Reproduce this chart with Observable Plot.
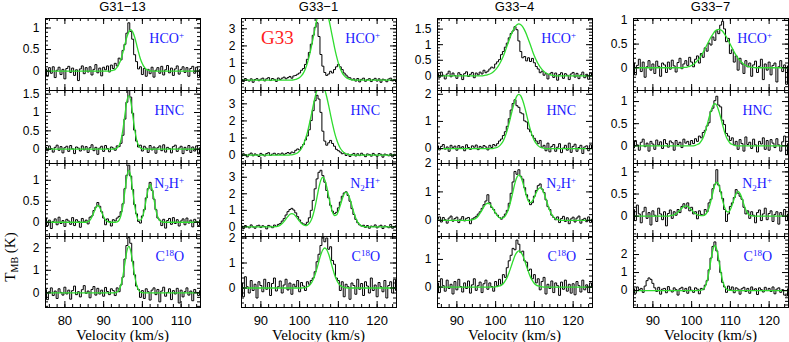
<!DOCTYPE html>
<html><head><meta charset="utf-8">
<script src="https://cdn.jsdelivr.net/npm/d3@7"></script>
<script src="https://cdn.jsdelivr.net/npm/@observablehq/plot@0.6"></script>
<style>
body{margin:0;background:#fff;}
#fig{position:relative;width:789px;height:342px;overflow:hidden;background:#fff;}
#fig svg{position:absolute;overflow:visible;}
</style></head><body><div id="fig"></div>
<script>
// ---------- categories / axes ----------
const sources = ["G31\u221213","G33\u22121","G33\u22124","G33\u22127"];
const molecules = ["HCO+","HNC","N2H+","C18O"];
const vStart = [75,85,85,85];           // first channel velocity (km/s)
const vStep = 0.5;                       // channel width (km/s)
const xDomains = [[75,115],[85,125],[85,125],[85,125]];
const xTickLabels = [[80,90,100,110],[90,100,110,120],[90,100,110,120],[90,100,110,120]];
const yDomains = [
  [[-0.45,1.22],[-0.39,1.6],[-0.34,1.4],[-0.65,2.5]],
  [[-0.6,3.6],[-0.49,3.78],[-0.58,3.83],[-0.78,2.06]],
  [[-0.47,1.84],[-0.55,2.14],[-0.57,2.0],[-0.74,1.83]],
  [[-0.48,1.04],[-0.4,1.25],[-0.46,1.19],[-0.94,3.0]]
];
const yTickLabels = [
  [[0,0.5,1],[0,0.5,1,1.5],[0,0.5,1],[0,1,2]],
  [[0,1,2,3],[0,1,2,3],[0,1,2,3],[0,1,2]],
  [[0,0.5,1,1.5],[0,1,2],[0,1,2],[0,1]],
  [[0,0.5,1],[0,0.5,1],[0,0.5,1],[0,1,2]]
];

// ---------- spectra (T_MB, K) ----------
const s1_hco = [0.05,-0.12,0.08,-0.05,0.10,-0.15,0.02,0.09,-0.08,0.04, -0.18,0.06,0.11,-0.03,0.07,-0.10,0.03,-0.22,0.05,0.12, -0.06,0.08,-0.02,0.10,-0.09,0.04,0.15,-0.04,0.07,-0.11, 0.09,0.03,0.12,-0.02,0.14,0.06,0.18,0.12,0.30,0.26, 0.48,0.62,0.88,1.12,0.92,0.74,0.38,0.22,0.05,0.10, -0.08,0.06,-0.12,0.04,-0.06,0.09,-0.14,0.02,0.08,-0.05, 0.11,-0.09,0.03,0.13,-0.04,0.07,-0.10,0.05,0.12,-0.07, 0.04,0.10,-0.03,0.08,-0.12,0.06,0.11,-0.05,0.09,-0.15,0.04];
const s1_hnc = [0.06,-0.04,0.09,0.02,-0.08,0.05,0.11,-0.03,0.07,-0.10, 0.04,0.08,-0.06,0.10,0.01,-0.12,0.06,0.03,-0.05,0.09, -0.02,0.07,-0.09,0.04,0.12,-0.04,0.05,-0.14,0.03,0.08, -0.06,0.10,0.02,-0.07,0.06,0.03,-0.03,0.09,0.07,0.16, 0.38,0.82,1.28,1.60,1.42,0.98,0.52,0.22,0.06,0.11, -0.05,0.08,0.03,-0.09,0.10,-0.02,0.06,-0.11,0.04,0.09, -0.04,0.12,-0.08,0.05,0.02,-0.10,0.07,0.11,-0.06,0.03, 0.08,-0.12,0.05,-0.03,0.10,-0.09,0.06,-0.05,0.09,-0.13,0.04];
const s1_n2h = [0.10,-0.08,0.05,-0.15,0.02,0.08,-0.06,0.12,-0.03,0.04, -0.10,0.07,0.03,-0.05,0.11,-0.08,0.06,0.02,-0.12,0.09, 0.01,0.05,-0.04,0.12,0.15,0.28,0.36,0.47,0.38,0.25, 0.10,-0.06,0.08,0.02,-0.09,0.06,0.03,0.10,0.14,0.25, 0.44,0.80,1.12,1.36,1.10,0.78,0.42,0.20,0.02,-0.02, 0.15,0.30,0.58,0.80,0.95,0.76,0.55,0.30,0.10,0.05, -0.08,0.07,-0.14,0.04,0.09,-0.05,0.11,-0.03,0.06,-0.09, 0.03,0.08,-0.06,0.10,-0.02,0.05,-0.11,0.07,0.02,-0.08,0.06];
const s1_c18o = [0.15,-0.30,0.05,0.22,-0.12,0.08,-0.25,0.18,0.02,-0.10, 0.25,-0.05,0.12,-0.28,0.10,0.30,-0.08,0.05,-0.18,0.14, 0.32,-0.02,0.08,-0.22,0.15,0.28,-0.10,0.20,-0.05,0.12, -0.15,0.24,0.06,-0.08,0.18,0.10,-0.12,0.22,0.05,0.35, 0.70,1.50,2.10,2.45,2.20,1.40,0.80,0.30,0.15,-0.20, 0.10,-0.25,0.18,0.05,-0.32,0.12,0.22,-0.08,0.15,-0.40, 0.08,0.25,-0.15,0.02,0.18,-0.30,0.10,-0.05,0.20,-0.45, 0.12,-0.18,0.05,0.22,-0.10,0.08,-0.35,0.15,0.02,-0.12,0.10];

const s2_hco = [0.05,-0.08,0.10,0.02,-0.05,0.08,-0.12,0.04,0.09,-0.03, 0.06,0.12,-0.04,0.08,0.15,-0.02,0.10,0.05,-0.07,0.13, 0.04,0.12,0.18,0.08,0.15,0.22,0.12,0.25,0.28,0.35, 0.42,0.58,0.68,0.92,1.22,1.62,2.10,2.62,3.08,3.35, 2.55,1.50,0.82,0.45,0.28,0.36,0.52,0.42,0.62,0.78, 0.92,0.78,0.62,0.42,0.30,0.18,0.14,0.02,0.08,-0.05, 0.10,-0.10,0.05,0.12,-0.06,0.03,0.09,-0.08,0.04,0.11, -0.05,0.08,-0.12,0.06,0.02,-0.09,0.07,0.12,-0.04,0.05,-0.10];
const s2_hnc = [-0.06,0.08,0.02,-0.10,0.05,0.12,-0.04,0.07,0.01,-0.08, 0.10,0.03,-0.05,0.09,0.14,-0.02,0.06,0.11,0.02,0.08, 0.05,0.12,0.03,0.10,0.15,0.08,0.18,0.14,0.28,0.36, 0.30,0.48,0.62,0.88,1.12,1.48,2.02,2.60,3.18,3.50, 3.28,2.50,1.40,0.82,0.58,0.72,0.86,0.68,0.52,0.34, 0.26,0.18,0.08,0.12,-0.02,0.06,-0.08,0.04,0.10,-0.05, 0.08,-0.03,0.11,0.02,-0.09,0.07,0.04,-0.06,0.10,0.01, -0.07,0.09,0.05,-0.12,0.06,0.02,-0.04,0.08,-0.10,0.05,0.03];
const s2_n2h = [0.05,-0.10,0.08,0.02,-0.06,0.12,0.00,-0.08,0.06,0.10, -0.04,0.07,0.02,-0.12,0.09,0.04,-0.05,0.11,0.03,0.15, 0.20,0.35,0.50,0.72,0.92,1.05,1.12,1.02,0.85,0.62, 0.42,0.25,0.18,0.15,0.28,0.55,1.00,1.60,2.30,2.90, 3.30,3.42,3.10,2.70,2.20,1.75,1.30,0.95,0.80,0.88, 1.15,1.50,1.85,2.05,2.12,1.90,1.55,1.10,0.75,0.45, 0.25,0.12,0.05,0.10,-0.03,0.08,-0.08,0.05,0.02,0.12, -0.06,0.04,0.10,-0.10,0.06,0.02,-0.05,0.15,-0.08,0.03,0.07];
const s2_c18o = [0.20,-0.35,0.45,0.05,-0.20,0.30,-0.10,0.15,-0.40,0.25, 0.10,-0.15,0.35,-0.05,0.22,-0.30,0.18,0.40,-0.12,0.05, 0.28,-0.20,0.12,0.35,-0.08,0.20,-0.25,0.15,0.05,0.30, -0.15,0.22,0.08,-0.10,0.25,0.15,0.30,0.40,0.65,1.05, 1.35,1.70,2.05,1.85,2.00,1.55,1.65,1.10,0.95,0.40, 0.30,-0.10,0.25,-0.35,0.15,0.05,-0.45,0.20,0.10,-0.25, 0.35,-0.05,0.18,-0.30,0.25,0.08,-0.20,0.40,-0.10,0.12, -0.35,0.22,0.05,-0.15,0.30,-0.40,0.10,0.25,-0.20,0.35,-0.10];

const s3_hco = [0.08,-0.05,0.12,0.02,-0.10,0.06,0.15,-0.03,0.09,0.01, -0.08,0.10,0.04,-0.12,0.07,0.13,-0.02,0.05,0.11,-0.06, 0.09,0.03,0.12,0.06,0.18,0.10,0.15,0.22,0.28,0.25, 0.38,0.45,0.52,0.68,0.78,0.92,1.05,1.22,1.36,1.44, 1.58,1.48,1.12,0.78,0.58,0.62,0.48,0.58,0.46,0.56, 0.42,0.30,0.22,0.10,0.15,0.02,0.08,-0.10,0.06,0.11, -0.05,0.09,-0.14,0.04,0.10,-0.08,0.07,0.02,-0.12,0.06, 0.11,-0.04,0.08,-0.09,0.03,0.12,-0.06,0.05,-0.11,0.09,0.02];
const s3_hnc = [0.10,-0.05,0.08,0.15,-0.02,0.06,-0.10,0.12,0.03,0.09, -0.06,0.11,0.02,0.07,-0.08,0.14,0.04,-0.03,0.10,0.05, 0.13,-0.04,0.08,0.02,0.11,0.06,-0.05,0.12,0.04,0.15, 0.10,0.18,0.28,0.35,0.48,0.62,0.82,1.10,1.42,1.66, 1.80,1.58,1.52,1.32,1.28,1.02,0.98,0.72,0.62,0.48, 0.38,0.28,0.18,0.30,0.05,0.12,-0.08,0.20,-0.12,0.08, 0.15,-0.10,0.05,0.18,-0.15,0.02,0.12,-0.06,0.20,-0.14, 0.08,0.16,-0.10,0.04,0.12,-0.18,0.06,0.10,-0.08,0.14,0.02];
const s3_n2h = [0.05,0.12,-0.06,0.10,0.02,-0.10,0.08,0.15,-0.03,0.06, 0.11,-0.08,0.04,0.13,-0.02,0.07,0.10,-0.12,0.05,0.09, 0.14,0.22,0.30,0.42,0.55,0.68,0.90,0.62,0.45,0.38, 0.25,0.18,0.10,0.04,0.12,0.22,0.35,0.60,0.95,1.35, 1.72,1.62,1.78,1.55,1.45,1.15,0.90,0.72,0.55,0.62, 0.85,1.05,1.22,1.28,1.10,0.98,0.72,0.48,0.38,0.18, 0.10,0.02,0.12,-0.08,0.06,0.14,-0.04,0.09,-0.12,0.05, 0.11,-0.06,0.08,0.15,-0.10,0.03,0.07,-0.05,0.12,-0.08,0.04];
const s3_c18o = [0.15,-0.20,0.30,0.05,-0.15,0.25,-0.05,0.10,-0.25,0.20, -0.10,0.28,0.02,-0.18,0.15,-0.05,0.22,-0.22,0.08,0.30, -0.12,0.05,0.18,-0.20,0.12,0.25,-0.08,0.15,0.02,-0.15, 0.20,0.05,0.28,0.10,0.45,0.35,0.70,0.95,1.15,1.40, 1.35,1.70,1.55,1.25,1.30,0.95,0.90,0.60,0.65,0.30, 0.45,0.15,0.30,-0.10,0.20,0.35,-0.25,0.10,-0.05,0.22, -0.20,0.15,0.05,-0.30,0.18,-0.08,0.25,-0.15,0.10,-0.22, 0.12,-0.28,0.20,0.05,-0.18,0.25,-0.10,0.08,-0.20,0.15,0.02];

const s4_hco = [0.10,-0.15,0.05,0.18,-0.08,0.12,-0.20,0.02,0.15,-0.05, 0.08,-0.12,0.14,0.03,-0.18,0.10,0.06,-0.10,0.12,-0.03, 0.16,0.04,-0.09,0.11,0.20,-0.02,0.08,0.15,0.05,0.22, 0.12,0.02,0.18,0.25,0.10,0.30,0.22,0.42,0.35,0.52, 0.48,0.65,0.58,0.78,0.72,0.90,0.98,0.82,0.55,0.62, 0.30,0.38,0.12,0.25,-0.05,0.20,0.08,-0.12,0.15,0.02, 0.10,-0.18,0.06,0.14,-0.10,0.03,0.18,-0.25,0.08,-0.05, 0.12,-0.15,0.05,0.10,-0.30,0.02,0.15,-0.08,0.06,-0.35,0.04];
const s4_hnc = [-0.05,0.12,0.02,-0.10,0.08,0.15,-0.02,0.06,-0.12,0.10, 0.04,-0.08,0.13,0.02,0.09,-0.06,0.14,0.05,-0.03,0.11, 0.07,-0.10,0.12,0.03,0.08,-0.04,0.15,0.06,0.10,0.02, 0.12,0.05,0.16,0.10,0.22,0.18,0.30,0.35,0.45,0.52, 0.78,0.85,1.02,1.12,0.92,0.88,0.58,0.48,0.28,0.22, 0.12,0.18,0.02,0.10,-0.08,0.14,0.05,-0.12,0.20,0.03, 0.08,-0.06,0.15,0.02,-0.14,0.10,0.04,0.18,-0.08,0.12, -0.10,0.14,0.06,-0.04,0.16,0.02,-0.12,0.09,0.22,-0.20,0.05];
const s4_n2h = [0.15,-0.10,0.25,0.05,-0.15,0.10,0.20,-0.05,0.08,-0.20, 0.12,0.02,-0.12,0.18,0.05,-0.08,0.10,-0.22,0.06,0.14, -0.05,0.10,0.02,0.15,0.08,0.22,0.28,0.18,0.30,0.12, 0.20,0.05,0.10,-0.06,0.12,0.04,0.02,0.15,0.10,0.30, 0.38,0.62,0.72,1.05,0.70,0.55,0.40,0.15,-0.12,0.05, 0.22,0.30,0.42,0.60,0.52,0.45,0.38,0.20,0.05,0.12, -0.05,0.10,0.02,-0.15,0.08,0.14,-0.10,0.05,0.18,-0.08, 0.06,0.12,-0.12,0.04,0.10,-0.18,0.08,0.02,0.15,-0.10,0.05];
const s4_c18o = [0.10,-0.15,0.20,0.05,0.12,-0.10,0.25,0.55,0.70,0.62, 0.40,0.15,-0.05,0.18,-0.20,0.08,0.12,-0.12,0.22,0.02, -0.08,0.15,0.05,-0.25,0.10,0.18,-0.05,0.12,-0.15,0.20, 0.02,-0.10,0.15,0.08,-0.18,0.12,0.05,0.30,0.55,1.15, 1.80,2.45,2.70,2.20,1.65,1.00,0.45,0.20,-0.10,0.25, 0.05,0.20,-0.12,0.15,0.08,-0.20,0.10,0.18,-0.05,0.12, -0.15,0.20,0.02,0.10,-0.22,0.15,0.05,-0.08,0.18,0.00, 0.12,-0.05,0.20,-0.18,0.08,0.15,-0.10,0.05,-0.25,-0.30,0.10];

// ---------- fitted profiles (green), same channels ----------
const f1_hco = [0,0,0,0,0,0,0,0,0,0, 0,0,0,0,0,0,0,0,0,0, 0,0,0,0,0,0,0,0,0,0, 0,0,0,0, 0.01,0.02,0.04,0.09,0.17,0.28,0.44,0.62,0.79,0.91,0.96,0.91,0.79,0.62,0.44,0.28,0.17,0.09,0.04,0.02,0.01, 0,0,0,0,0,0,0,0,0,0, 0,0,0,0,0,0,0,0,0,0, 0,0,0,0,0,0];
const f1_hnc = [0,0,0,0,0,0,0,0,0,0, 0,0,0,0,0,0,0,0,0,0, 0,0,0,0,0,0,0,0,0,0, 0,0,0,0,0,0, 0.01,0.03,0.10,0.26,0.55,0.94,1.31,1.46,1.31,0.94,0.55,0.26,0.10,0.03,0.01, 0,0,0,0,0,0,0,0,0,0, 0,0,0,0,0,0,0,0,0,0, 0,0,0,0,0,0,0,0,0,0];
const f1_n2h = [0,0,0,0,0,0,0,0,0,0, 0,0,0,0,0,0,0,0,0,0, 0,0, 0.02,0.05,0.13,0.24,0.35,0.40,0.35,0.24,0.13,0.05,0.02, 0,0,0,0, 0.01,0.05,0.17,0.40,0.75,1.09,1.24,1.09,0.75,0.40,0.17,0.05,0.05,0.12,0.29,0.55,0.79,0.90,0.79,0.55,0.29,0.12,0.04,0.01, 0,0,0,0,0,0,0,0,0,0, 0,0,0,0,0,0,0,0,0,0];
const f1_c18o = [0,0,0,0,0,0,0,0,0,0, 0,0,0,0,0,0,0,0,0,0, 0,0,0,0,0,0,0,0,0,0, 0,0,0,0,0,0, 0.01,0.04,0.14,0.36,0.77,1.33,1.85,2.06,1.85,1.33,0.77,0.36,0.14,0.04,0.01, 0,0,0,0,0,0,0,0,0,0, 0,0,0,0,0,0,0,0,0,0, 0,0,0,0,0,0,0,0,0,0];

const f2_hco = [0,0,0,0,0,0,0,0,0,0, 0,0,0,0,0,0,0,0,0,0, 0,0,0,0,0,0, 0.01,0.02,0.05,0.09,0.16,0.27,0.43,0.67,1.00,1.42,1.92,2.48,3.06,3.60,4.05,4.34,4.44,4.34,4.05,3.60,3.06,2.48,1.92,1.42,1.00,0.67,0.43,0.27,0.16,0.09,0.05,0.02,0.01, 0,0,0,0,0,0,0,0,0,0, 0,0,0,0,0,0,0,0,0,0, 0,0];
const f2_hnc = [0,0,0,0,0,0,0,0,0,0, 0,0,0,0,0,0,0,0,0,0, 0,0,0,0,0, 0.01,0.02,0.04,0.08,0.14,0.25,0.40,0.63,0.94,1.33,1.81,2.34,2.89,3.40,3.82,4.10,4.20,4.10,3.82,3.40,2.89,2.34,1.81,1.33,0.94,0.63,0.40,0.25,0.14,0.08,0.04,0.02,0.01, 0,0,0,0,0,0,0,0,0,0, 0,0,0,0,0,0,0,0,0,0, 0,0,0];
const f2_n2h = [0,0,0,0,0,0,0,0,0,0, 0,0,0,0,0,0,0, 0.01,0.02,0.05,0.11,0.20,0.33,0.49,0.64,0.76,0.80,0.76,0.64,0.49,0.33,0.20,0.12,0.08,0.11,0.21,0.41,0.75,1.23,1.82,2.40,2.84,3.00,2.84,2.41,1.84,1.29,0.89,0.69,0.72,0.95,1.30,1.69,1.99,2.10,1.99,1.68,1.27,0.86,0.52,0.28,0.14,0.06,0.02,0.01, 0,0,0,0,0,0,0,0,0,0, 0,0,0,0,0,0];
const f2_c18o = [0,0,0,0,0,0,0,0,0,0, 0,0,0,0,0,0,0,0,0,0, 0,0,0,0,0,0,0,0,0,0, 0,0, 0.01,0.02,0.05,0.10,0.19,0.34,0.54,0.80,1.08,1.35,1.53,1.60,1.53,1.35,1.08,0.80,0.54,0.34,0.19,0.10,0.05,0.02,0.01, 0,0,0,0,0,0,0,0,0,0, 0,0,0,0,0,0,0,0,0,0, 0,0,0,0,0,0];

const f3_hco = [0,0,0,0,0,0,0,0,0,0, 0,0,0,0,0,0,0,0,0,0, 0,0,0,0, 0.01,0.02,0.04,0.06,0.09,0.14,0.20,0.28,0.38,0.50,0.64,0.80,0.98,1.15,1.32,1.46,1.57,1.64,1.67,1.64,1.57,1.46,1.32,1.15,0.98,0.80,0.64,0.50,0.38,0.28,0.20,0.14,0.09,0.06,0.04,0.02,0.01, 0,0,0,0,0,0,0,0,0,0, 0,0,0,0,0,0,0,0,0,0];
const f3_hnc = [0,0,0,0,0,0,0,0,0,0, 0,0,0,0,0,0,0,0,0,0, 0,0,0,0,0,0,0,0,0, 0.01,0.03,0.05,0.10,0.18,0.29,0.46,0.68,0.95,1.24,1.53,1.77,1.94,2.00,1.94,1.77,1.53,1.24,0.95,0.68,0.46,0.29,0.18,0.10,0.05,0.03,0.01, 0,0,0,0,0,0,0,0,0,0, 0,0,0,0,0,0,0,0,0,0, 0,0,0,0,0];
const f3_n2h = [0,0,0,0,0,0,0,0,0,0, 0,0,0,0,0,0,0, 0.01,0.02,0.04,0.08,0.15,0.25,0.36,0.48,0.57,0.60,0.57,0.48,0.36,0.25,0.15,0.09,0.07,0.09,0.16,0.28,0.47,0.73,1.03,1.32,1.52,1.60,1.53,1.34,1.08,0.84,0.67,0.62,0.68,0.81,0.98,1.10,1.15,1.09,0.95,0.74,0.53,0.34,0.20,0.11,0.05,0.02,0.01, 0,0,0,0,0,0,0,0,0,0, 0,0,0,0,0,0,0];
const f3_c18o = [0,0,0,0,0,0,0,0,0,0, 0,0,0,0,0,0,0,0,0,0, 0,0,0,0,0,0,0,0,0,0, 0.01,0.02,0.04,0.07,0.13,0.23,0.36,0.54,0.74,0.95,1.14,1.26,1.31,1.26,1.14,0.95,0.74,0.54,0.36,0.23,0.13,0.07,0.04,0.02,0.01, 0,0,0,0,0,0,0,0,0,0, 0,0,0,0,0,0,0,0,0,0, 0,0,0,0,0,0];

const f4_hco = [0,0,0,0,0,0,0,0,0,0, 0,0,0,0,0,0,0,0,0,0, 0,0,0,0,0,0, 0.01,0.01,0.02,0.03,0.05,0.07,0.11,0.15,0.20,0.26,0.33,0.41,0.49,0.57,0.65,0.71,0.77,0.80,0.81,0.80,0.77,0.71,0.65,0.57,0.49,0.41,0.33,0.26,0.20,0.15,0.11,0.07,0.05,0.03,0.02,0.01,0.01, 0,0,0,0,0,0,0,0,0,0, 0,0,0,0,0,0,0,0];
const f4_hnc = [0,0,0,0,0,0,0,0,0,0, 0,0,0,0,0,0,0,0,0,0, 0,0,0,0,0,0,0,0,0,0, 0,0, 0.01,0.03,0.05,0.11,0.19,0.31,0.47,0.64,0.79,0.91,0.95,0.91,0.79,0.64,0.47,0.31,0.19,0.11,0.05,0.03,0.01, 0,0,0,0,0,0,0,0,0,0, 0,0,0,0,0,0,0,0,0,0, 0,0,0,0,0,0,0,0];
const f4_n2h = [0,0,0,0,0,0,0,0,0,0, 0,0,0,0,0,0,0,0,0, 0.01,0.02,0.03,0.06,0.09,0.14,0.18,0.22,0.23,0.22,0.18,0.14,0.09,0.06,0.03,0.02,0.01,0.01,0.03,0.09,0.19,0.35,0.54,0.71,0.77,0.71,0.54,0.35,0.20,0.11,0.09,0.15,0.26,0.40,0.51,0.56,0.51,0.40,0.26,0.14,0.06,0.02,0.01, 0,0,0,0,0,0,0,0,0,0, 0,0,0,0,0,0,0,0,0];
const f4_c18o = [0,0,0,0,0,0,0,0,0,0, 0,0,0,0,0,0,0,0,0,0, 0,0,0,0,0,0,0,0,0,0, 0,0,0,0, 0.01,0.02,0.08,0.23,0.54,1.06,1.71,2.27,2.50,2.27,1.71,1.06,0.54,0.23,0.08,0.02,0.01, 0,0,0,0,0,0,0,0,0,0, 0,0,0,0,0,0,0,0,0,0, 0,0,0,0,0,0,0,0,0,0];

const spectra = [[s1_hco,s1_hnc,s1_n2h,s1_c18o],[s2_hco,s2_hnc,s2_n2h,s2_c18o],[s3_hco,s3_hnc,s3_n2h,s3_c18o],[s4_hco,s4_hnc,s4_n2h,s4_c18o]];
const fits = [[f1_hco,f1_hnc,f1_n2h,f1_c18o],[f2_hco,f2_hnc,f2_n2h,f2_c18o],[f3_hco,f3_hnc,f3_n2h,f3_c18o],[f4_hco,f4_hnc,f4_n2h,f4_c18o]];

// ---------- layout ----------
const frameLeft = [45,241,437,633], frameW = 155;
const rowTop = [18,90,163,236], rowH = [72,73,73,71];
const ML = 40, MR = 10, MT = 10;
const GREEN = "#2fdc2f", BLUE = "#2020ff", RED = "#ff2020";
const fig = document.getElementById("fig");

function intTicks(lo, hi, step) {
  const out = [];
  for (let k = Math.ceil(lo/step - 1e-9); k*step <= hi + 1e-9; k++) {
    const v = +(k*step).toFixed(6);
    if (v > lo + 1e-6 && v < hi - 1e-6) out.push(v);
  }
  return out;
}

for (let c = 0; c < 4; c++) {
  for (let r = 0; r < 4; r++) {
    const h = rowH[r], mb = r === 3 ? 30 : 10;
    const [x0, x1] = xDomains[c];
    const [y0, y1] = yDomains[c][r];
    const spec = spectra[c][r].map((t, i) => ({v: vStart[c] + vStep*i, t}));
    const fit = fits[c][r].map((t, i) => ({v: vStart[c] + vStep*i, t}));
    const labs = yTickLabels[c][r];
    const majorStep = labs[1] - labs[0];
    const yMinor = intTicks(y0, y1, majorStep === 0.5 ? 0.1 : 0.2);
    const yMajor = labs.filter(d => d > y0 && d < y1);
    const xMinor = intTicks(x0, x1, 2);
    const xMajor = intTicks(x0, x1, 10);
    const marks = [
      Plot.line(spec, {x: "v", y: "t", curve: "step", stroke: "#000", strokeWidth: 1, clip: true}),
      Plot.line(fit, {x: "v", y: "t", curve: "monotone-x", stroke: GREEN, strokeWidth: 1.3, clip: true}),
      Plot.tickX(xMinor, {insetTop: h - 3, stroke: "#000"}),
      Plot.tickX(xMinor, {insetBottom: h - 3, stroke: "#000"}),
      Plot.tickX(xMajor, {insetTop: h - 6, stroke: "#000"}),
      Plot.tickX(xMajor, {insetBottom: h - 6, stroke: "#000"}),
      Plot.tickY(yMinor, {insetRight: frameW - 3, stroke: "#000"}),
      Plot.tickY(yMinor, {insetLeft: frameW - 3, stroke: "#000"}),
      Plot.tickY(yMajor, {insetRight: frameW - 6, stroke: "#000"}),
      Plot.tickY(yMajor, {insetLeft: frameW - 6, stroke: "#000"}),
      Plot.frame({stroke: "#000", strokeWidth: 1}),
      Plot.axisY(labs, {tickSize: 0, tickPadding: 6, label: null, fontSize: 12, tickFormat: d => String(d)})
    ];
    if (r === 3) marks.push(Plot.axisX(xTickLabels[c], {tickSize: 0, tickPadding: 8, label: null, tickFormat: d => String(d)}));
    const svg = Plot.plot({
      width: ML + frameW + MR, height: MT + h + mb,
      marginLeft: ML, marginRight: MR, marginTop: MT, marginBottom: mb,
      x: {domain: [x0, x1], axis: null},
      y: {domain: [y0, y1], axis: null},
      style: {fontFamily: "'Liberation Sans', Arial, sans-serif", fontSize: "13px", background: "transparent", overflow: "visible", color: "#000"},
      marks
    });
    svg.style.position = "absolute";
    svg.style.left = (frameLeft[c] - ML) + "px";
    svg.style.top = (rowTop[r] - MT) + "px";
    fig.appendChild(svg);
  }
}

// ---------- text overlay ----------
const ov = d3.select(fig).append("svg").attr("width", 789).attr("height", 342)
  .style("left", "0px").style("top", "0px").style("pointer-events", "none");
const serif = "'Liberation Serif', 'Times New Roman', serif";
const sans = "'Liberation Sans', Arial, sans-serif";

sources.forEach((s, c) => {
  const cx = frameLeft[c] + frameW/2;
  ov.append("text").attr("x", cx).attr("y", 11).attr("text-anchor", "middle")
    .attr("font-family", sans).attr("font-size", 13).text(s);
  ov.append("text").attr("x", cx).attr("y", 340).attr("text-anchor", "middle")
    .attr("font-family", serif).attr("font-size", 15).text("Velocity (km/s)");
});

function molLabel(sel, name) {
  const sup = (t) => sel.append("tspan").attr("dy", -5).attr("font-size", 9).text(t);
  if (name === "HCO+") { sel.append("tspan").text("HCO"); sup("+"); }
  else if (name === "HNC") { sel.append("tspan").text("HNC"); }
  else if (name === "N2H+") {
    sel.append("tspan").text("N");
    sel.append("tspan").attr("dy", 3).attr("font-size", 9).text("2");
    sel.append("tspan").attr("dy", -3).text("H");
    sup("+");
  } else if (name === "C18O") {
    sel.append("tspan").text("C");
    sup("18");
    sel.append("tspan").attr("dy", 5).text("O");
  }
}
for (let c = 0; c < 4; c++) {
  molecules.forEach((m, r) => {
    const t = ov.append("text").attr("x", frameLeft[c] + frameW - 16).attr("y", rowTop[r] + 25)
      .attr("text-anchor", "end").attr("font-family", serif).attr("font-size", 14).attr("fill", BLUE);
    molLabel(t, m);
  });
}
ov.append("text").attr("x", frameLeft[1] + 20).attr("y", rowTop[0] + 26)
  .attr("font-family", serif).attr("font-size", 19).attr("fill", RED).text("G33");

const yl = ov.append("text").attr("transform", "translate(15,257) rotate(-90)")
  .attr("text-anchor", "middle").attr("font-family", serif).attr("font-size", 15);
yl.append("tspan").text("T");
yl.append("tspan").attr("dy", 3).attr("font-size", 10).text("MB");
yl.append("tspan").attr("dy", -3).text(" (K)");
</script>
</body></html>
